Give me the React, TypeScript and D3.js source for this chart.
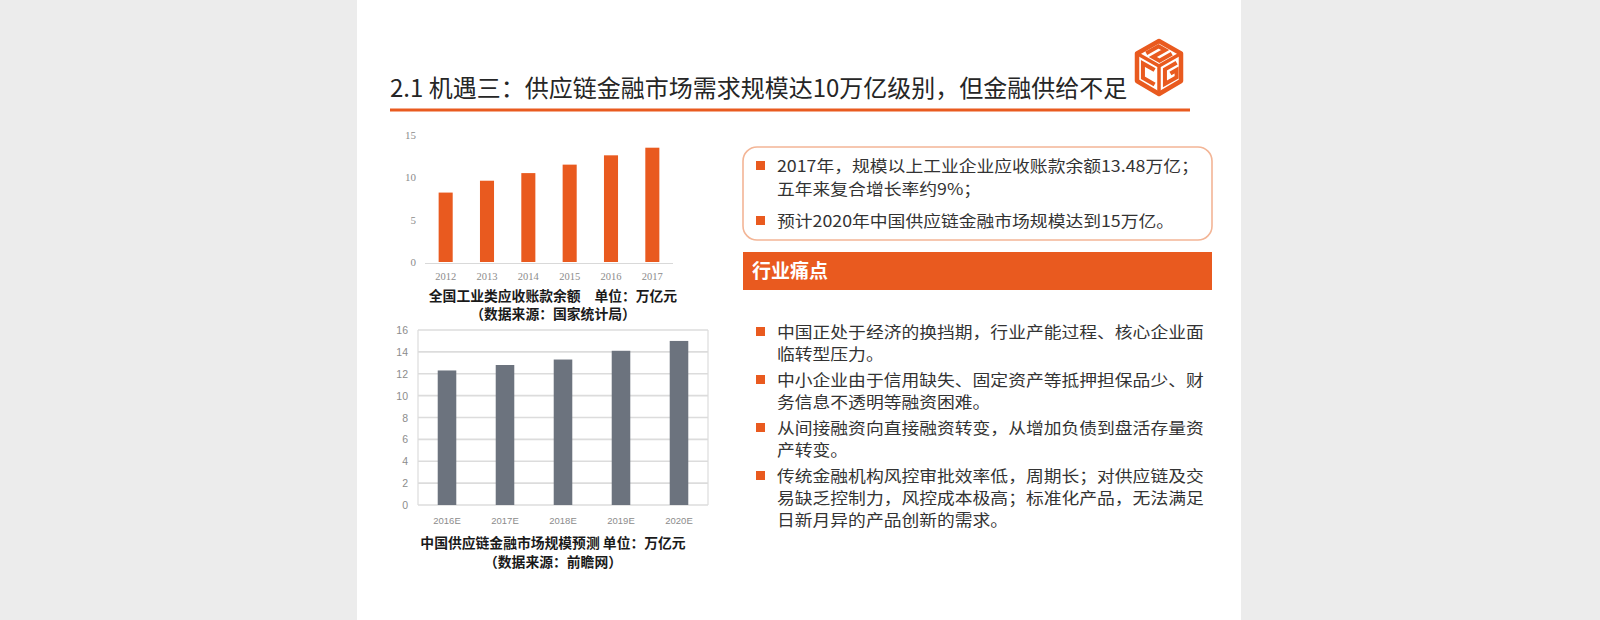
import React from 'react';
import * as d3 from 'd3';

const topYears = ['2012', '2013', '2014', '2015', '2016', '2017'];
const topValues = [8.2, 9.6, 10.5, 11.5, 12.6, 13.5];
const topTicks = [0, 5, 10, 15];

const bottomYears = ['2016E', '2017E', '2018E', '2019E', '2020E'];
const bottomValues = [12.3, 12.8, 13.3, 14.1, 15.0];
const bottomTicks = [0, 2, 4, 6, 8, 10, 12, 14, 16];

const titleText = '2.1 机遇三：供应链金融市场需求规模达10万亿级别，但金融供给不足';
const topCaption = ['全国工业类应收账款余额　单位：万亿元', '（数据来源：国家统计局）'];
const bottomCaption = ['中国供应链金融市场规模预测 单位：万亿元', '（数据来源：前瞻网）'];
const highlightItems = [
  ['2017年，规模以上工业企业应收账款余额13.48万亿；', '五年来复合增长率约9%；'],
  ['预计2020年中国供应链金融市场规模达到15万亿。'],
];
const headerText = '行业痛点';
const painPoints = [
  ['中国正处于经济的换挡期，行业产能过程、核心企业面', '临转型压力。'],
  ['中小企业由于信用缺失、固定资产等抵押担保品少、财', '务信息不透明等融资困难。'],
  ['从间接融资向直接融资转变，从增加负债到盘活存量资', '产转变。'],
  ['传统金融机构风控审批效率低，周期长；对供应链及交', '易缺乏控制力，风控成本极高；标准化产品，无法满足', '日新月异的产品创新的需求。'],
];

const ORANGE = '#e95a1f';
const GRAY_BAR = '#6c737e';
const CJK = "'Noto Sans CJK SC', 'Noto Sans', sans-serif";

function Logo({ x, y }: { x: number; y: number }) {
  const T = [22, 0], R = [44, 12.5], C = [22, 25], L = [0, 12.5], BL = [0, 40], B = [22, 53], BR = [44, 40];
  const face = (o: number[], a: number[], b: number[]) => (s: number, t: number) => [
    o[0] + s * (a[0] - o[0]) + t * (b[0] - o[0]),
    o[1] + s * (a[1] - o[1]) + t * (b[1] - o[1]),
  ];
  const poly = (f: (s: number, t: number) => number[], pts: number[][]) =>
    'M' + pts.map(([s, t]) => f(s, t).join(',')).join('L');
  const top = face(T, L, R);
  const left = face(L, C, BL);
  const right = face(C, R, B);
  return (
    <g transform={`translate(${x},${y})`}>
      <path d={`M${T}L${R}L${BR}L${B}L${BL}L${L}Z`} fill="#fff" stroke={ORANGE} strokeWidth={4.5} strokeLinejoin="round" />
      <path d={`M${L}L${C}L${R}M${C}L${B}`} fill="none" stroke={ORANGE} strokeWidth={3.5} />
      <path d={poly(top, [[0.78, 0.2], [0.22, 0.2], [0.22, 0.5], [0.78, 0.5], [0.78, 0.8], [0.22, 0.8]])} fill="none" stroke={ORANGE} strokeWidth={4} />
      <path d={poly(left, [[0.8, 0.24], [0.27, 0.24], [0.27, 0.76], [0.8, 0.76]])} fill="none" stroke={ORANGE} strokeWidth={4} />
      <path d={poly(right, [[0.8, 0.24], [0.27, 0.24], [0.27, 0.76], [0.8, 0.76], [0.8, 0.5], [0.52, 0.5]])} fill="none" stroke={ORANGE} strokeWidth={4} />
    </g>
  );
}

export default function App() {
  const xTop = d3.scaleBand<string>().domain(topYears).range([425, 673]).paddingInner(0.66).paddingOuter(0.33);
  const yTop = d3.scaleLinear().domain([0, 15]).range([262, 135]);
  const xBot = d3.scaleBand<string>().domain(bottomYears).range([418, 708]).paddingInner(0.68).paddingOuter(0.34);
  const yBot = d3.scaleLinear().domain([0, 16]).range([505, 330]);

  const fs = 15.5;
  const sx = 17.8 / 15.5;
  const textX = 777;
  const bulletX = 756;
  const lineH = 22;

  const boxBaselines = [[172, 195], [227]];
  const painStart = 338;
  const painGap = 26;
  let cursor = painStart;
  const painLayout = painPoints.map((lines) => {
    const ys = lines.map((_, i) => cursor + i * lineH);
    cursor = ys[ys.length - 1] + painGap;
    return ys;
  });

  const bodyText = (ln: string, y: number, key: React.Key) => (
    <text key={key} transform={`translate(${textX},${y}) scale(${sx},1)`} fontFamily={CJK} fontSize={fs} fill="#333">{ln}</text>
  );

  return (
    <svg width={1600} height={620} style={{ position: 'absolute', left: 0, top: 0 }}>
      <rect x={0} y={0} width={1600} height={620} fill="#ececec" />
      <rect x={357} y={0} width={884} height={620} fill="#ffffff" />

      {/* Title */}
      <text x={390} y={97} fontFamily={CJK} fontSize={24} fill="#262626">{titleText}</text>
      <rect x={390} y={108.5} width={800} height={3} fill={ORANGE} />
      <Logo x={1137} y={41} />

      {/* Top chart */}
      <line x1={425} x2={673} y1={yTop(0) + 1.5} y2={yTop(0) + 1.5} stroke="#d9d9d9" strokeWidth={1} />
      {topTicks.map((t) => (
        <text key={t} x={416} y={yTop(t) + 4} textAnchor="end" fontFamily="'Liberation Serif', serif" fontSize={11} fill="#8c8c8c">{t}</text>
      ))}
      {topYears.map((yr, i) => (
        <rect key={yr} x={xTop(yr)} y={yTop(topValues[i])} width={xTop.bandwidth()} height={yTop(0) - yTop(topValues[i])} fill={ORANGE} />
      ))}
      {topYears.map((yr) => (
        <text key={yr} x={(xTop(yr) as number) + xTop.bandwidth() / 2} y={280} textAnchor="middle" fontFamily="'Liberation Serif', serif" fontSize={10.5} fill="#8c8c8c">{yr}</text>
      ))}
      <text x={553} y={301} textAnchor="middle" fontFamily={CJK} fontWeight={700} fontSize={13.8} fill="#1a1a1a">{topCaption[0]}</text>
      <text x={553} y={319} textAnchor="middle" fontFamily={CJK} fontWeight={700} fontSize={13.8} fill="#1a1a1a">{topCaption[1]}</text>

      {/* Bottom chart */}
      {bottomTicks.map((t) => (
        <line key={'g' + t} x1={418} x2={708} y1={yBot(t)} y2={yBot(t)} stroke="#dcdcdc" strokeWidth={1.6} />
      ))}
      <line x1={418} x2={418} y1={330} y2={505} stroke="#dcdcdc" strokeWidth={1.2} />
      <line x1={708} x2={708} y1={330} y2={505} stroke="#dcdcdc" strokeWidth={1.2} />
      {bottomTicks.map((t) => (
        <text key={t} x={408} y={yBot(t) + 4} textAnchor="end" fontFamily="'Liberation Sans', sans-serif" fontSize={10.5} fill="#8c8c8c">{t}</text>
      ))}
      {bottomYears.map((yr, i) => (
        <rect key={yr} x={xBot(yr)} y={yBot(bottomValues[i])} width={xBot.bandwidth()} height={yBot(0) - yBot(bottomValues[i])} fill={GRAY_BAR} />
      ))}
      {bottomYears.map((yr) => (
        <text key={yr} x={(xBot(yr) as number) + xBot.bandwidth() / 2} y={524} textAnchor="middle" fontFamily="'Liberation Sans', sans-serif" fontSize={9.5} fill="#8c8c8c">{yr}</text>
      ))}
      <text x={553} y={548} textAnchor="middle" fontFamily={CJK} fontWeight={700} fontSize={13.8} fill="#1a1a1a">{bottomCaption[0]}</text>
      <text x={553} y={567} textAnchor="middle" fontFamily={CJK} fontWeight={700} fontSize={13.8} fill="#1a1a1a">{bottomCaption[1]}</text>

      {/* Highlight box */}
      <rect x={743} y={147} width={469} height={93} rx={14} ry={14} fill="#fff" stroke="#f3b596" strokeWidth={1.6} />
      {highlightItems.map((lines, i) => (
        <g key={i}>
          <rect x={bulletX} y={boxBaselines[i][0] - 11} width={9} height={9} fill={ORANGE} />
          {lines.map((ln, j) => bodyText(ln, boxBaselines[i][j], j))}
        </g>
      ))}

      {/* Header */}
      <rect x={743} y={252} width={469} height={38} fill={ORANGE} />
      <text x={752} y={278} fontFamily={CJK} fontWeight={700} fontSize={19} fill="#fff">{headerText}</text>

      {/* Pain points */}
      {painPoints.map((lines, i) => (
        <g key={i}>
          <rect x={bulletX} y={painLayout[i][0] - 11} width={9} height={9} fill={ORANGE} />
          {lines.map((ln, j) => bodyText(ln, painLayout[i][j], j))}
        </g>
      ))}
    </svg>
  );
}
